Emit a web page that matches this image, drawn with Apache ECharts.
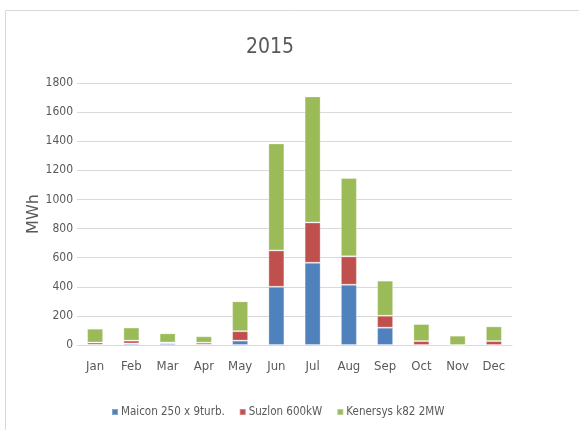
<!DOCTYPE html>
<html>
<head>
<meta charset="utf-8">
<script src="https://cdn.jsdelivr.net/npm/echarts@6/dist/echarts.min.js"></script>
<style>
  html, body { margin: 0; padding: 0; background: #fff; }
  #chart { width: 579px; height: 430px; }
</style>
</head>
<body>
<div id="chart"></div>
<script>
// months and the three turbine series (MWh)
const months = ['Jan', 'Feb', 'Mar', 'Apr', 'May', 'Jun', 'Jul', 'Aug', 'Sep', 'Oct', 'Nov', 'Dec']
const maicon = [2, 10, 12, 2, 30, 400, 565, 414, 119, 0, 0, 0]
const suzlon = [15, 20, 5, 14, 65, 250, 277, 195, 82, 27, 0, 27]
const kenersys = [95, 90, 63, 44, 205, 735, 866, 538, 241, 117, 64, 101]
const yTicks = [0, 200, 400, 600, 800, 1000, 1200, 1400, 1600, 1800]

const font = '"DejaVu Sans Condensed", sans-serif'
const textGray = '#595959'

const chart = echarts.init(document.getElementById('chart'))

function barSeries(name, data, color) {
  return {
    name: name,
    type: 'bar',
    stack: 'total',
    barWidth: 16,
    data: data,
    itemStyle: { color: color, borderColor: 'rgba(255,255,255,0.3)', borderWidth: 1 }
  }
}

chart.setOption({
  backgroundColor: '#fff',
  animation: false,
  textStyle: { fontFamily: font },
  graphic: [{
    type: 'rect',
    shape: { x: 5.5, y: 10.5, width: 600, height: 440 },
    style: { fill: 'none', stroke: '#d9d9d9', lineWidth: 1 },
    silent: true
  }],
  title: {
    text: '2015',
    left: 241,
    top: 32,
    textStyle: { fontFamily: font, fontSize: 21, fontWeight: 'normal', color: textGray }
  },
  legend: {
    left: 106,
    top: 401,
    itemWidth: 6,
    itemHeight: 6,
    itemGap: 14,
    icon: 'rect',
    textStyle: { fontFamily: font, fontSize: 11.5, color: textGray, padding: [0, 0, 0, -2] },
    data: ['Maicon 250 x 9turb.', 'Suzlon 600kW', 'Kenersys k82 2MW']
  },
  grid: { left: 77, right: 67, top: 83, bottom: 85, containLabel: false },
  xAxis: {
    type: 'category',
    data: months,
    axisTick: { show: false },
    axisLine: { lineStyle: { color: '#d9d9d9', width: 1 } },
    axisLabel: { color: textGray, fontSize: 13, margin: 15, fontFamily: font }
  },
  yAxis: {
    type: 'value',
    min: yTicks[0],
    max: yTicks[yTicks.length - 1],
    interval: 200,
    name: 'MWh',
    nameLocation: 'middle',
    nameGap: 35,
    nameMoveOverlap: false,
    nameRotate: 90,
    nameTextStyle: { color: textGray, fontSize: 16, fontFamily: 'DejaVu Sans, sans-serif' },
    axisLine: { show: false },
    axisTick: { show: false },
    axisLabel: { color: textGray, fontSize: 12, margin: 4, fontFamily: font, formatter: v => String(v) },
    splitLine: { lineStyle: { color: '#d9d9d9', width: 1 } }
  },
  series: [
    barSeries('Maicon 250 x 9turb.', maicon, '#4f81bd'),
    barSeries('Suzlon 600kW', suzlon, '#c0504d'),
    barSeries('Kenersys k82 2MW', kenersys, '#9bbb59')
  ]
})
</script>
</body>
</html>
